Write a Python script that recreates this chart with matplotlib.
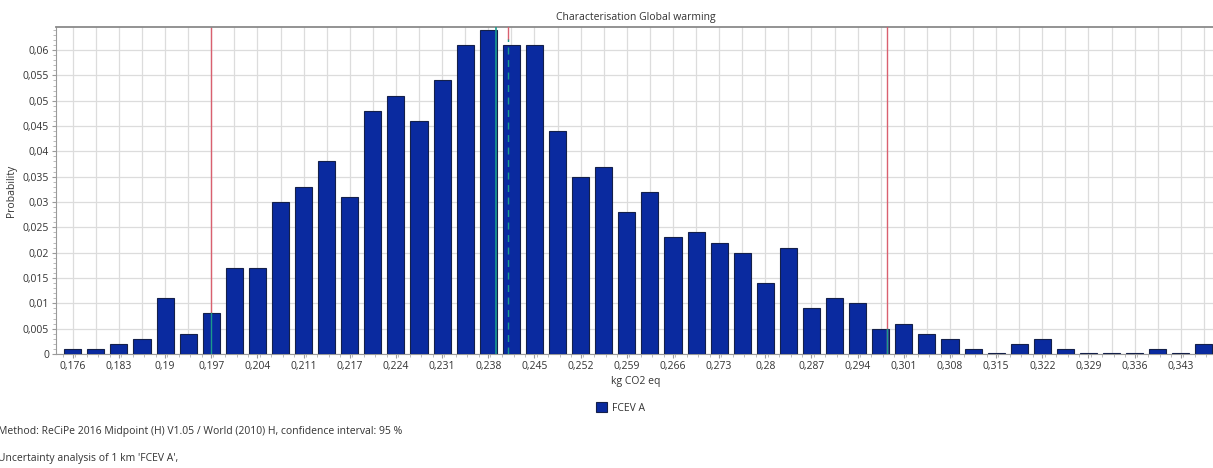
import matplotlib
matplotlib.use("Agg")
import matplotlib.pyplot as plt
from matplotlib.ticker import MultipleLocator, AutoMinorLocator, FuncFormatter

plt.rcParams['font.family'] = ['Open Sans', 'DejaVu Sans']

# Histogram of the Monte Carlo result (kg CO2 eq), one value per bin
bin_start = 0.17566
bin_step = 0.003485
probability = [
    0.001, 0.001, 0.002, 0.003, 0.011, 0.004, 0.008, 0.017, 0.017, 0.030,
    0.033, 0.038, 0.031, 0.048, 0.051, 0.046, 0.054, 0.061, 0.064, 0.061,
    0.061, 0.044, 0.035, 0.037, 0.028, 0.032, 0.023, 0.024, 0.022, 0.020,
    0.014, 0.021, 0.009, 0.011, 0.010, 0.005, 0.006, 0.004, 0.003, 0.001,
    0.0002, 0.002, 0.003, 0.001, 0.0002, 0.0002, 0.0002, 0.001, 0.0002, 0.002,
]
bin_centers = [bin_start + i * bin_step for i in range(len(probability))]

tick_labels = ["0,176", "0,183", "0,19", "0,197", "0,204", "0,211", "0,217",
               "0,224", "0,231", "0,238", "0,245", "0,252", "0,259", "0,266",
               "0,273", "0,28", "0,287", "0,294", "0,301", "0,308", "0,315",
               "0,322", "0,329", "0,336", "0,343"]

# Statistics markers
ci_low = 0.19654
ci_high = 0.29858
median = 0.23957
mean = 0.24135

bar_color = "#0a2a9f"
teal = "#1a9a8c"
red = "#d9606f"

fig = plt.figure(figsize=(12.13, 4.68), dpi=100)
ax = fig.add_axes([0.0462, 0.2436, 0.9560, 0.6987])

ax.bar(bin_centers, probability, width=bin_step * 0.74, color=bar_color,
       edgecolor="#14204a", linewidth=0.8, zorder=3, label="FCEV A")

ymax = 0.06455

# confidence interval limits
ax.axvline(ci_low, color=red, lw=1.0, zorder=2)
ax.plot([ci_low, ci_low], [0, probability[6]], color=teal, lw=1.0, zorder=4)
ax.axvline(ci_high, color=red, lw=1.0, zorder=4)
ax.plot([ci_high, ci_high], [0, probability[35]], color=teal, lw=1.0, zorder=5)
# median and mean
ax.axvline(median, color=teal, lw=1.2, zorder=5)
ax.plot([mean, mean], [0.0622, ymax], color=red, lw=1.0, zorder=5)
ax.plot([mean, mean], [0, 0.0622], color=teal, lw=1.0, ls=(0, (5, 4)), zorder=5)

# ticks: labelled every second bin, grid on every bin
ax.set_xticks(bin_centers[0::2])
ax.set_xticklabels(tick_labels)
ax.xaxis.set_minor_locator(MultipleLocator(bin_step / 2))
ax.yaxis.set_major_locator(MultipleLocator(0.005))
ax.yaxis.set_minor_locator(AutoMinorLocator(5))
ax.yaxis.set_major_formatter(FuncFormatter(
    lambda v, p: "0" if abs(v) < 1e-9 else f"{v:.3f}".rstrip("0").replace(".", ",")))

for i in range(-1, len(probability) + 1):
    ax.axvline(bin_start + i * bin_step, color="#dcdcdc", lw=0.9, zorder=1)
ax.grid(axis="y", color="#dcdcdc", lw=0.9, zorder=1)
ax.set_axisbelow(True)

ax.set_xlim(bin_start - 0.725 * bin_step, bin_start + 49.51 * bin_step)
ax.set_ylim(0, ymax)

ax.tick_params(axis="both", which="major", labelsize=7.5, length=3,
               color="#9a9a9a", labelcolor="#333333", pad=2)
ax.tick_params(axis="both", which="minor", length=2, color="#b0b0b0")
for side in ["left", "bottom"]:
    ax.spines[side].set_color("#9a9a9a")
    ax.spines[side].set_linewidth(0.8)
ax.spines["top"].set_color("#8a8a8a")
ax.spines["top"].set_linewidth(1.3)
ax.spines["right"].set_visible(False)

ax.set_title("Characterisation Global warming", fontsize=7.5, color="#333333", pad=5)
ax.set_xlabel("kg CO2 eq", fontsize=7.5, color="#333333", labelpad=3)
ax.set_ylabel("Probability", fontsize=7.5, color="#333333", labelpad=4)

fig.legend(loc="center", bbox_to_anchor=(0.5115, 0.128), frameon=False,
           fontsize=7.5, handlelength=1.0, handleheight=1.0, handletextpad=0.5,
           labelcolor="#333333")

fig.text(-0.002, 0.079, "Method: ReCiPe 2016 Midpoint (H) V1.05 / World (2010) H, confidence interval: 95 %",
         fontsize=7.5, color="#333333", va="center", ha="left")
fig.text(-0.002, 0.021, "Uncertainty analysis of 1 km 'FCEV A',",
         fontsize=7.5, color="#333333", va="center", ha="left")

fig.savefig("out.png", dpi=100)
